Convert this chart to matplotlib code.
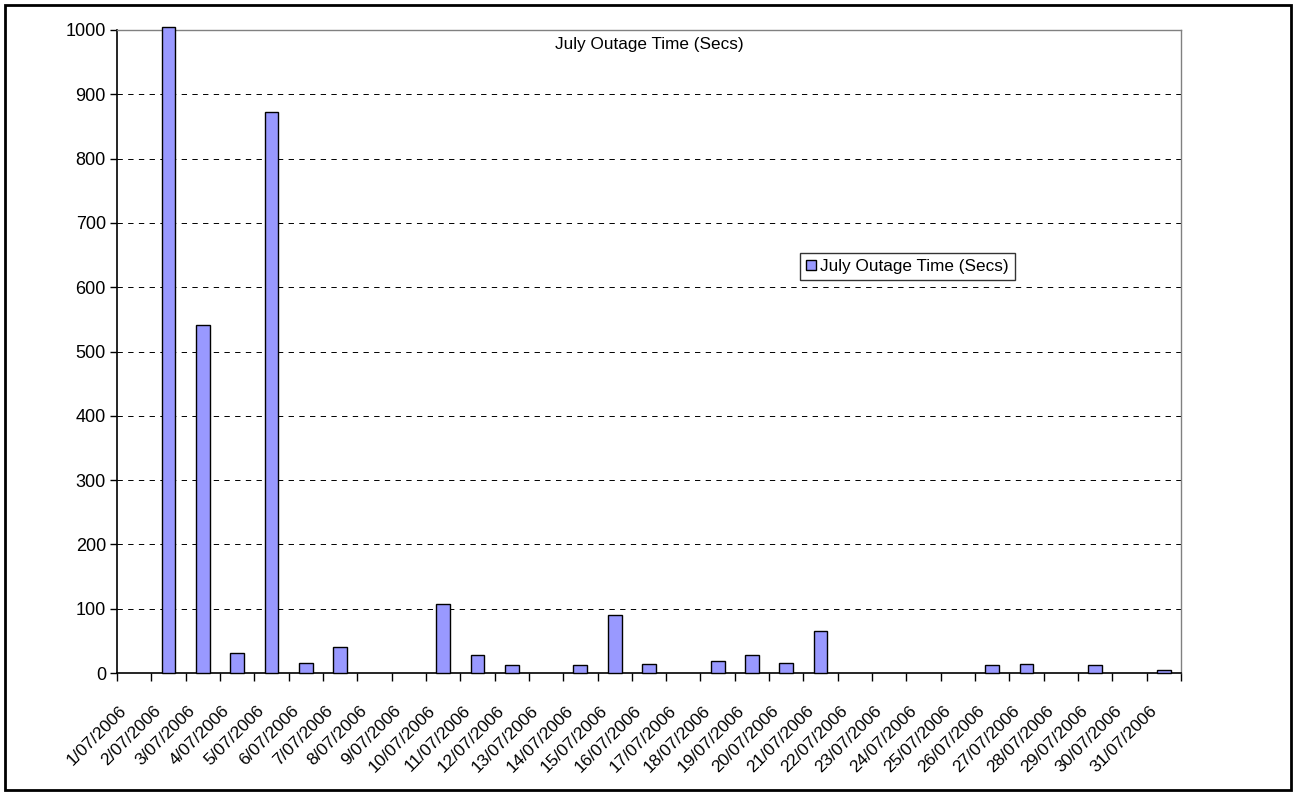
import numpy as np
import matplotlib
matplotlib.use('Agg')
import matplotlib.pyplot as plt
import matplotlib.transforms as mtransforms
from matplotlib.patches import Rectangle, Patch

plt.rcParams['font.family'] = ['Liberation Sans', 'DejaVu Sans']

# July 2006 daily outage time in seconds (day 2 runs past the top of the axis)
days = [f'{d}/07/2006' for d in range(1, 32)]
outage_secs = [0, 1005, 541, 31, 873, 16, 41, 0, 0, 107, 28, 12, 0, 12, 90,
               14, 0, 18, 28, 15, 65, 0, 0, 0, 0, 12, 14, 0, 12, 0, 4]
series_name = 'July Outage Time (Secs)'
y_ticks = list(range(0, 1001, 100))

bar_color = '#9999ff'

fig = plt.figure(figsize=(12.98, 7.96), dpi=100)
ax = fig.add_axes([117 / 1298, 1 - 673 / 796, 1064 / 1298, 643 / 796])

x = np.arange(len(days))
# empty days get no outline, like the original
edge_w = [1.0 if v > 0 else 0.0 for v in outage_secs]
ax.bar(x, outage_secs, width=0.4, color=bar_color, edgecolor='black',
       linewidth=edge_w, zorder=3, clip_on=False)

ax.set_xlim(-0.5, len(days) - 0.5)
ax.set_ylim(0, 1000)

# dashed gridlines
ax.set_yticks(y_ticks)
ax.yaxis.grid(True, linestyle=(0, (5.5, 5.5)), color='black', linewidth=0.7)
ax.set_axisbelow(True)
ax.tick_params(axis='y', direction='out', length=5, width=1, labelsize=13, pad=3)

# tick marks between categories, labels in the middle
ax.set_xticks(np.arange(-0.5, len(days), 1.0))
ax.set_xticklabels([])
ax.tick_params(axis='x', which='major', direction='out', length=6, width=1)
ax.set_xticks(x, minor=True)
ax.set_xticklabels(days, minor=True, rotation=45, ha='right', va='top',
                   rotation_mode='anchor', fontsize=12.5)
ax.tick_params(axis='x', which='minor', length=0, pad=0)
offset = mtransforms.ScaledTranslation(-15 / 100, -30 / 100, fig.dpi_scale_trans)
for lab in ax.get_xticklabels(minor=True):
    lab.set_transform(lab.get_transform() + offset)

for side in ['top', 'right']:
    ax.spines[side].set_color('#808080')
    ax.spines[side].set_linewidth(1.0)
for side in ['left', 'bottom']:
    ax.spines[side].set_color('black')
    ax.spines[side].set_linewidth(1.2)

ax.text(0.5, 0.978, series_name, transform=ax.transAxes, ha='center',
        va='center', fontsize=12.3)

handle = Patch(facecolor=bar_color, edgecolor='black', linewidth=1.0)
leg = ax.legend([handle], [series_name], loc='upper left',
                bbox_to_anchor=(800 / 1298, 1 - 253 / 796),
                bbox_transform=fig.transFigure, fontsize=12.3, frameon=True,
                fancybox=False, handlelength=0.6, handleheight=0.6,
                handletextpad=0.25, borderpad=0.35, borderaxespad=0)
leg.get_frame().set_edgecolor('black')
leg.get_frame().set_linewidth(1.0)

# outer chart border
fig.patches.append(Rectangle((5 / 1298, 6 / 796), 1286 / 1298, 785 / 796,
                             transform=fig.transFigure, fill=False,
                             edgecolor='black', linewidth=2))

fig.savefig('out.png', dpi=100)
